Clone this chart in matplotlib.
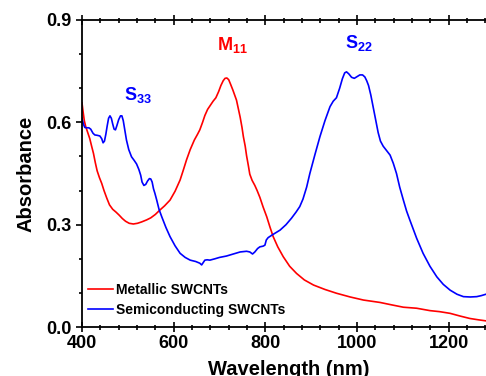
import numpy as np
import matplotlib
matplotlib.use('Agg')
import matplotlib.pyplot as plt
from matplotlib.ticker import MultipleLocator

# absorbance spectra
metal_wl = [400, 402, 405, 408, 412, 417, 421, 425, 429, 433, 438, 443, 448, 454, 460,
            467, 474, 481, 488, 495, 503, 512, 521, 530, 541, 550, 560, 570, 580, 592,
            603, 614, 621, 628, 636, 645, 652, 657, 663, 668, 674, 680, 686, 692, 698,
            703, 708, 712, 716, 720, 724, 729, 733, 737, 741, 745, 749, 752, 756, 759,
            763, 766, 771, 777, 782, 788, 795, 803, 810, 817, 827, 839, 853, 868, 885,
            905, 930, 955, 985, 1014, 1050, 1075, 1101, 1130, 1159, 1180, 1203, 1225,
            1246, 1265, 1281]
metal_abs = [0.657, 0.635, 0.605, 0.588, 0.572, 0.552, 0.530, 0.509, 0.482, 0.458, 0.438,
             0.421, 0.400, 0.378, 0.358, 0.345, 0.337, 0.328, 0.318, 0.310, 0.304, 0.302,
             0.304, 0.308, 0.314, 0.320, 0.330, 0.343, 0.355, 0.372, 0.398, 0.431, 0.460,
             0.490, 0.520, 0.548, 0.565, 0.578, 0.600, 0.620, 0.638, 0.650, 0.662, 0.672,
             0.690, 0.708, 0.722, 0.729, 0.730, 0.725, 0.712, 0.695, 0.680, 0.665, 0.640,
             0.615, 0.585, 0.558, 0.530, 0.502, 0.472, 0.448, 0.430, 0.415, 0.400, 0.380,
             0.352, 0.323, 0.293, 0.265, 0.235, 0.206, 0.178, 0.157, 0.138, 0.123, 0.110,
             0.099, 0.088, 0.079, 0.072, 0.065, 0.058, 0.055, 0.048, 0.045, 0.040, 0.032,
             0.025, 0.021, 0.018]

semi_wl = [400, 403, 406, 410, 415, 419, 424, 428, 433, 439, 443, 446, 449, 452, 455,
           458, 461, 464, 467, 470, 473, 476, 480, 484, 487, 490, 493, 497, 502, 508,
           514, 519, 524, 528, 531, 535, 539, 543, 547, 550, 553, 556, 559, 563, 568,
           574, 583, 592, 603, 614, 625, 636, 648, 657, 661, 664, 668, 673, 679, 690,
           700, 715, 730, 745, 759, 766, 772, 777, 783, 788, 795, 799, 802, 806, 815,
           832, 845, 857, 867, 875, 882, 890, 897, 908, 919, 930, 941, 948, 955, 962,
           968, 973, 977, 982, 988, 994, 1000, 1006, 1012, 1017, 1021, 1025, 1030, 1035,
           1041, 1046, 1051, 1057, 1064, 1072, 1079, 1086, 1093, 1101, 1108, 1115, 1130,
           1144, 1159, 1174, 1188, 1203, 1218, 1232, 1247, 1261, 1271, 1281]
semi_abs = [0.612, 0.595, 0.585, 0.584, 0.584, 0.580, 0.568, 0.563, 0.562, 0.560, 0.552,
            0.540, 0.545, 0.565, 0.590, 0.612, 0.619, 0.612, 0.595, 0.580, 0.578, 0.590,
            0.608, 0.619, 0.619, 0.605, 0.580, 0.548, 0.520, 0.499, 0.488, 0.478, 0.462,
            0.445, 0.425, 0.415, 0.418, 0.428, 0.435, 0.434, 0.425, 0.405, 0.392, 0.372,
            0.345, 0.323, 0.292, 0.265, 0.238, 0.216, 0.204, 0.196, 0.192, 0.187, 0.182,
            0.188, 0.196, 0.197, 0.196, 0.200, 0.204, 0.208, 0.214, 0.220, 0.222, 0.220,
            0.214, 0.220, 0.230, 0.235, 0.237, 0.240, 0.255, 0.262, 0.270, 0.284, 0.300,
            0.319, 0.337, 0.353, 0.375, 0.410, 0.450, 0.505, 0.558, 0.605, 0.646, 0.662,
            0.672, 0.700, 0.728, 0.745, 0.748, 0.742, 0.732, 0.729, 0.734, 0.739, 0.739,
            0.733, 0.722, 0.708, 0.680, 0.646, 0.605, 0.570, 0.545, 0.530, 0.518, 0.504,
            0.480, 0.450, 0.410, 0.372, 0.340, 0.314, 0.260, 0.216, 0.178, 0.147, 0.125,
            0.108, 0.096, 0.089, 0.088, 0.089, 0.092, 0.096]

plt.rcParams['font.family'] = 'Liberation Sans'
plt.rcParams['font.weight'] = 'bold'
plt.rcParams['mathtext.fontset'] = 'custom'
plt.rcParams['mathtext.bf'] = 'Liberation Sans:bold'
plt.rcParams['mathtext.rm'] = 'Liberation Sans:bold'

fig = plt.figure(figsize=(4.86, 3.76), dpi=100)
# right end of the axis runs past the image edge, like the original
ax = fig.add_axes([82 / 486, 49 / 376, 412.6 / 486, 307 / 376])

ax.plot(metal_wl, metal_abs, color='#ff0000', lw=1.2, label='Metallic SWCNTs')
ax.plot(semi_wl, semi_abs, color='#0000ff', lw=1.2, label='Semiconducting SWCNTs')

ax.set_xlim(400, 1300)
ax.set_ylim(0, 0.9)
ax.xaxis.set_major_locator(MultipleLocator(200))
ax.xaxis.set_minor_locator(MultipleLocator(40))
ax.yaxis.set_major_locator(MultipleLocator(0.3))
ax.yaxis.set_minor_locator(MultipleLocator(0.1))
ax.yaxis.set_major_formatter(plt.FuncFormatter(lambda v, p: '%.1f' % v))

for s in ax.spines.values():
    s.set_linewidth(1.3)
ax.spines['right'].set_visible(False)

ax.tick_params(axis='x', which='both', direction='inout', top=True, width=1.2)
ax.tick_params(axis='x', which='major', length=7, labelsize=13, pad=2.5)
ax.tick_params(axis='x', which='minor', length=3.6)
ax.tick_params(axis='y', which='both', direction='out', width=1.2)
ax.tick_params(axis='y', which='major', length=4.3, labelsize=13, pad=3)
ax.tick_params(axis='y', which='minor', length=2.5)

ax.set_xlabel('Wavelength (nm)', fontsize=14.5, fontweight='bold', labelpad=5.5)
ax.set_ylabel('Absorbance', fontsize=14.5, fontweight='bold', labelpad=8)

ax.text(729, 0.812, r'$\mathbf{M_{11}}$', color='#ff0000', fontsize=13, ha='center')
ax.text(1003, 0.818, r'$\mathbf{S_{22}}$', color='#0000ff', fontsize=13, ha='center')
ax.text(521, 0.665, r'$\mathbf{S_{33}}$', color='#0000ff', fontsize=13, ha='center')

leg = ax.legend(loc='lower left', bbox_to_anchor=(0.0, 0.0137), borderaxespad=0,
                frameon=False, handlelength=1.8, handletextpad=0.25, labelspacing=0.45,
                prop={'weight': 'bold', 'size': 10})

fig.savefig('out.png', dpi=100)
